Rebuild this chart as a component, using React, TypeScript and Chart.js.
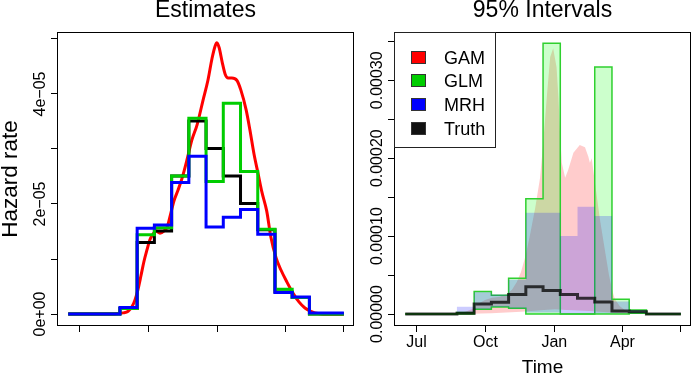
import React, { useEffect, useRef } from 'react';
import { Chart, registerables } from 'chart.js';
Chart.register(...registerables);

const FONT = '"Liberation Sans", Arial, Helvetica, sans-serif';

// Time in days since 1 Jul; step bins of the piecewise-constant hazards
const binEdges = [-15, 54, 77, 100, 123, 146, 169, 192, 215, 238, 261, 284, 307, 353];
const truthRate = [0, 0.1e-5, 1.3e-5, 1.51e-5, 2.51e-5, 3.51e-5, 3.01e-5, 2.51e-5, 2.01e-5, 1.53e-5, 0.4e-5, 0.3e-5, 0];
const glmRate = [0, 0.1e-5, 1.44e-5, 1.57e-5, 2.51e-5, 3.56e-5, 2.41e-5, 3.83e-5, 2.59e-5, 1.54e-5, 0.45e-5, 0.3e-5, 0];
const mrhRate = [0, 0.12e-5, 1.56e-5, 1.62e-5, 2.39e-5, 2.87e-5, 1.58e-5, 1.76e-5, 1.9e-5, 1.45e-5, 0.39e-5, 0.31e-5, 0.02e-5];

const gamDays = [-15, 47, 58, 65, 70, 74, 78, 82, 86, 90, 94, 98, 102, 107.5, 113, 117, 121, 126, 131.5, 137, 143.5, 150, 157, 165, 171.5, 177, 181, 183.5, 186.5, 190.5, 194.5, 198.5, 203.5, 210, 215.5, 222.5, 227.5, 233, 238.5, 243.5, 250, 255.5, 262.5, 269, 277, 285, 293, 301, 309, 318.5, 334.5, 353];
const gamRate = [0, 0, 0.02e-5, 0.05e-5, 0.13e-5, 0.25e-5, 0.44e-5, 0.69e-5, 0.95e-5, 1.16e-5, 1.35e-5, 1.45e-5, 1.51e-5, 1.47e-5, 1.51e-5, 1.58e-5, 1.78e-5, 2.05e-5, 2.25e-5, 2.47e-5, 2.8e-5, 3.16e-5, 3.44e-5, 3.89e-5, 4.25e-5, 4.65e-5, 4.87e-5, 4.93e-5, 4.84e-5, 4.58e-5, 4.36e-5, 4.29e-5, 4.29e-5, 4.25e-5, 4.07e-5, 3.71e-5, 3.35e-5, 2.91e-5, 2.55e-5, 2.22e-5, 1.87e-5, 1.4e-5, 1.02e-5, 0.8e-5, 0.58e-5, 0.38e-5, 0.22e-5, 0.11e-5, 0.05e-5, 0.01e-5, 0, 0];

// 95% intervals
const gamUpperDays = [-15, 31, 51, 65, 74, 82, 91.5, 101, 111.5, 121, 127.5, 134, 139.5, 146, 151.5, 158.5, 165, 169.5, 174, 178.5, 182.5, 187, 189.5, 191.5, 194, 198.5, 202.5, 209.5, 218, 225, 229.5, 231.5, 234, 236, 240.5, 245, 251.5, 257, 261, 265, 271.5, 278, 288, 312, 353];
const gamUpper = [0, 0, 0.01e-4, 0.03e-4, 0.06e-4, 0.13e-4, 0.18e-4, 0.21e-4, 0.22e-4, 0.26e-4, 0.31e-4, 0.41e-4, 0.54e-4, 0.76e-4, 1.01e-4, 1.36e-4, 1.75e-4, 2.23e-4, 2.79e-4, 3.3e-4, 3.41e-4, 3.17e-4, 2.79e-4, 2.36e-4, 1.94e-4, 1.75e-4, 1.85e-4, 2.07e-4, 2.17e-4, 2.14e-4, 2.02e-4, 1.94e-4, 2.0e-4, 1.85e-4, 1.53e-4, 1.21e-4, 0.82e-4, 0.5e-4, 0.31e-4, 0.19e-4, 0.1e-4, 0.05e-4, 0.01e-4, 0, 0];
const gamLowerDays = [-15, 60, 100, 140, 170, 185, 200, 230, 260, 290, 353];
const gamLower = [0, 0, 0.01e-4, 0.03e-4, 0.05e-4, 0.06e-4, 0.05e-4, 0.04e-4, 0.02e-4, 0, 0];
const glmLower = [0, 0, 0.06e-4, 0.09e-4, 0.075e-4, 0, 0, 0, 0, 0, 0, 0.01e-4, 0];
const glmUpper = [0, 0.02e-4, 0.29e-4, 0.24e-4, 0.46e-4, 1.48e-4, 3.475e-4, 0, 0, 3.17e-4, 0.19e-4, 0.05e-4, 0];
const mrhLower = [0, 0.02e-4, 0.06e-4, 0.09e-4, 0.07e-4, 0.02e-4, 0.02e-4, 0.01e-4, 0.01e-4, 0.01e-4, 0.01e-4, 0.01e-4, 0];
const mrhUpper = [0, 0.094e-4, 0.28e-4, 0.25e-4, 0.44e-4, 1.3e-4, 1.3e-4, 1.0e-4, 1.377e-4, 1.258e-4, 0.16e-4, 0.05e-4, 0.005e-4];

const timeTicks = [0, 92, 184, 275, 353];
const timeLabels = ['Jul', 'Oct', 'Jan', 'Apr', ''];
const leftYTicks = [0, 1e-5, 2e-5, 3e-5, 4e-5, 5e-5];
const leftYLabels = ['0e+00', '', '2e\u221205', '', '4e\u221205', ''];
const rightYTicks = [0, 0.5e-4, 1e-4, 1.5e-4, 2e-4, 2.5e-4, 3e-4, 3.5e-4];
const rightYLabels = ['0.00000', '', '0.00010', '', '0.00020', '', '0.00030', ''];
const legendLabels = ['GAM', 'GLM', 'MRH', 'Truth'];
const legendColors = ['#FF0000', '#00CD00', '#0000FF', '#111111'];

const stepPoints = (edges: number[], vals: number[]) =>
  vals.map((v, i) => ({ x: edges[i], y: v })).concat([{ x: edges[edges.length - 1], y: vals[vals.length - 1] }]);
const curvePoints = (xs: number[], ys: number[]) => xs.map((x, i) => ({ x, y: ys[i] }));

const decor = {
  id: 'decor',
  afterDraw(chart: any, _a: any, o: any) {
    const { ctx, chartArea: a } = chart;
    const ys = chart.scales.y;
    ctx.save();
    ctx.strokeStyle = '#000';
    ctx.lineWidth = 1;
    ctx.strokeRect(a.left + 0.5, a.top + 0.5, a.right - a.left - 1, a.bottom - a.top - 1);
    ctx.fillStyle = '#000';
    ctx.textAlign = 'center';
    ctx.textBaseline = 'alphabetic';
    ctx.font = `16px ${FONT}`;
    o.yTicks.forEach((v: number, i: number) => {
      const t = o.yLabels[i];
      if (!t) return;
      const py = ys.getPixelForValue(v);
      ctx.save();
      ctx.translate(a.left - 12, py);
      ctx.rotate(-Math.PI / 2);
      ctx.fillText(t, 0, 0);
      ctx.restore();
    });
    ctx.font = `23px ${FONT}`;
    ctx.fillText(o.title, (a.left + a.right) / 2, 17);
    if (o.yTitle) {
      ctx.font = `22.5px ${FONT}`;
      ctx.save();
      ctx.translate(17, (a.top + a.bottom) / 2);
      ctx.rotate(-Math.PI / 2);
      ctx.fillText(o.yTitle, 0, 0);
      ctx.restore();
    }
    if (o.xTitle) {
      ctx.font = `19px ${FONT}`;
      ctx.fillText(o.xTitle, (a.left + a.right) / 2, 373);
    }
    if (o.legend) {
      const lx = a.left, ly = a.top, lw = 102, lh = 116;
      ctx.fillStyle = '#fff';
      ctx.fillRect(lx, ly, lw, lh);
      ctx.strokeStyle = '#222';
      ctx.strokeRect(lx + 0.5, ly + 0.5, lw - 1, lh - 1);
      ctx.textAlign = 'left';
      ctx.font = `18px ${FONT}`;
      legendLabels.forEach((t, i) => {
        const cy = ly + 25 + i * 23.7;
        ctx.fillStyle = legendColors[i];
        ctx.fillRect(lx + 17, Math.round(cy - 6.5), 15, 13);
        ctx.strokeStyle = '#333';
        ctx.strokeRect(lx + 17.5, Math.round(cy - 6.5) + 0.5, 14, 12);
        ctx.fillStyle = '#000';
        ctx.fillText(t, lx + 50, cy + 6.5);
      });
    }
    ctx.restore();
  },
};

const xScale = (showLabels: boolean) => ({
  type: 'linear',
  min: -30,
  max: 366.5,
  bounds: 'data',
  afterBuildTicks: (s: any) => { s.ticks = timeTicks.map((v) => ({ value: v })); },
  afterFit: (s: any) => { s.height = 48; },
  ticks: {
    display: true, autoSkip: false, maxRotation: 0, minRotation: 0, padding: 1, color: '#000',
    font: { size: 16, family: FONT },
    callback: (_v: any, i: number) => (showLabels ? timeLabels[i] : ''),
  },
  grid: { display: true, drawOnChartArea: false, drawTicks: true, tickLength: 6, color: '#000', lineWidth: 1 },
  border: { display: false },
});

const yScale = (min: number, max: number, ticks: number[], width: number) => ({
  type: 'linear',
  min, max,
  bounds: 'data',
  afterBuildTicks: (s: any) => { s.ticks = ticks.map((v) => ({ value: v })); },
  afterFit: (s: any) => { s.width = width; },
  ticks: { display: false },
  grid: { display: true, drawOnChartArea: false, drawTicks: true, tickLength: 6, color: '#000', lineWidth: 1 },
  border: { display: false },
});

const baseOptions = (x: any, y: any, decorOpts: any) => ({
  responsive: false,
  devicePixelRatio: 1,
  animation: false,
  events: [],
  layout: { padding: { top: 32, right: 1, left: 0, bottom: 0 } },
  elements: { point: { radius: 0 } },
  scales: { x, y },
  plugins: { legend: { display: false }, tooltip: { enabled: false }, decor: decorOpts },
});

const NONE = 'rgba(0,0,0,0)';

function leftConfig(): any {
  return {
    type: 'line',
    data: {
      datasets: [
        { label: 'MRH', data: stepPoints(binEdges, mrhRate), stepped: true, borderColor: '#0000FF', borderWidth: 3, fill: false, order: 1 },
        { label: 'GLM', data: stepPoints(binEdges, glmRate), stepped: true, borderColor: '#00CD00', borderWidth: 3, fill: false, order: 2 },
        { label: 'Truth', data: stepPoints(binEdges, truthRate), stepped: true, borderColor: '#000000', borderWidth: 3, fill: false, order: 3 },
        { label: 'GAM', data: curvePoints(gamDays, gamRate), cubicInterpolationMode: 'monotone', borderColor: '#FF0000', borderWidth: 3, fill: false, order: 4 },
      ],
    },
    options: baseOptions(xScale(false), yScale(-0.218e-5, 5.127e-5, leftYTicks, 57), {
      yTicks: leftYTicks, yLabels: leftYLabels, title: 'Estimates', yTitle: 'Hazard rate',
    }),
    plugins: [decor],
  };
}

function rightConfig(): any {
  const GLM_EDGE = '#2FD02F';
  return {
    type: 'line',
    data: {
      datasets: [
        { label: 'GAM lo', data: curvePoints(gamLowerDays, gamLower), borderColor: NONE, borderWidth: 0, fill: false, order: 10 },
        { label: 'GAM hi', data: curvePoints(gamUpperDays, gamUpper), borderColor: NONE, borderWidth: 0, fill: '-1', backgroundColor: 'rgba(255,0,0,0.2)', order: 9 },
        { label: 'GLM lo', data: stepPoints(binEdges, glmLower), stepped: true, borderColor: GLM_EDGE, borderWidth: 1.5, fill: false, order: 8 },
        { label: 'GLM hi', data: stepPoints(binEdges, glmUpper), stepped: true, borderColor: GLM_EDGE, borderWidth: 1.5, fill: '-1', backgroundColor: 'rgba(0,255,0,0.2)', order: 7 },
        { label: 'MRH lo', data: stepPoints(binEdges, mrhLower), stepped: true, borderColor: NONE, borderWidth: 0, fill: false, order: 6 },
        { label: 'MRH hi', data: stepPoints(binEdges, mrhUpper), stepped: true, borderColor: NONE, borderWidth: 0, fill: '-1', backgroundColor: 'rgba(0,0,255,0.2)', order: 5 },
        { label: 'Truth', data: stepPoints(binEdges, truthRate), stepped: true, borderColor: 'rgba(0,0,0,0.75)', borderWidth: 3, fill: false, order: 4 },
      ],
    },
    options: baseOptions(xScale(true), yScale(-0.154e-4, 3.62e-4, rightYTicks, 39), {
      yTicks: rightYTicks, yLabels: rightYLabels, title: '95% Intervals', xTitle: 'Time', legend: true,
    }),
    plugins: [decor],
  };
}

export default function App() {
  const leftRef = useRef<HTMLCanvasElement>(null);
  const rightRef = useRef<HTMLCanvasElement>(null);
  useEffect(() => {
    Chart.defaults.font.family = FONT;
    const l = new Chart(leftRef.current as HTMLCanvasElement, leftConfig());
    const r = new Chart(rightRef.current as HTMLCanvasElement, rightConfig());
    return () => { l.destroy(); r.destroy(); };
  }, []);
  return (
    <div style={{ position: 'fixed', left: 0, top: 0, width: 692, height: 374, background: '#fff' }}>
      <canvas ref={leftRef} width={355} height={374} style={{ position: 'absolute', left: 0, top: 0, width: 355, height: 374 }} />
      <canvas ref={rightRef} width={337} height={374} style={{ position: 'absolute', left: 355, top: 0, width: 337, height: 374 }} />
    </div>
  );
}
